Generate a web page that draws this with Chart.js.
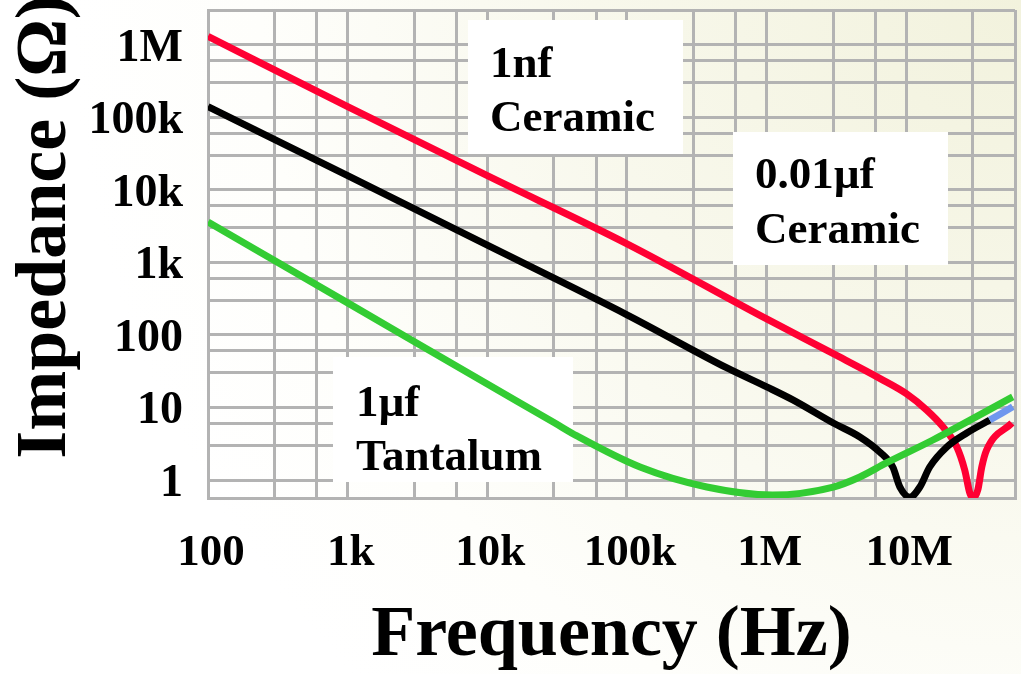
<!DOCTYPE html>
<html><head><meta charset="utf-8">
<script src="https://cdn.jsdelivr.net/npm/chart.js@4.4.1/dist/chart.umd.min.js"></script>
<style>html,body{margin:0;padding:0;background:#fff}#wrap{width:1021px;height:674px;position:relative}</style>
</head><body><div id="wrap"><canvas id="c"></canvas></div>
<script>
// ---- data ----
const redFreq = [100, 1e3, 1e4, 1e5, 1e6, 3e6, 6.5e6, 1e7, 1.4e7, 1.83e7, 2.3e7, 2.62e7, 2.85e7, 3.0e7, 3.25e7, 3.47e7, 3.76e7, 5.7e7];
const redZ    = [1.3e6, 1.4e5, 1.56e4, 1.8e3, 166, 55, 25, 15.5, 9.2, 5.4, 2.85, 1.37, 0.66, 0.57, 0.73, 1.51, 2.6, 6.1];
const blackFreq = [100, 1e3, 1e4, 1e5, 5.2e5, 1e6, 1.54e6, 3e6, 4.65e6, 6.45e6, 8e6, 9e6, 1.06e7, 1.25e7, 1.47e7, 1.95e7, 2.71e7, 3.96e7];
const blackZ    = [1.4e5, 1.56e4, 1.72e3, 189, 35, 19.2, 12.7, 6.1, 3.92, 2.43, 1.51, 0.8, 0.58, 0.8, 1.51, 2.85, 4.45, 6.7];
const blueFreq = [3.96e7, 5.78e7];
const blueZ    = [6.7, 10.2];
const greenFreq = [100, 1e3, 1e4, 3e4, 4.38e4, 1.24e5, 3.73e5, 1.1e6, 3e6, 4.65e6, 7.2e6, 1.55e7, 5.78e7];
const greenZ    = [3.6e3, 276, 21, 6.2, 4.05, 1.51, 0.8, 0.62, 0.8, 1.1, 1.72, 3.56, 14];

const xGridValues = [100,300,600,1e3,3e3,6e3,1e4,3e4,6e4,1e5,3e5,6e5,1e6,3e6,6e6,1e7,3e7,6e7];
const xLabelValues = [100, 1e3, 1e4, 1e5, 1e6, 1e7];
const xLabelTexts  = ['100','1k','10k','100k','1M','10M'];
const yGridValues = [1,3,6,10,30,60,100,300,600,1e3,3e3,6e3,1e4,3e4,6e4,1e5,3e5,6e5,1e6,3e6];
const yLabelValues = [1, 10, 100, 1e3, 1e4, 1e5, 1e6];
const yLabelTexts  = ['1','10','100','1k','10k','100k','1M'];

const noteTexts = [['1nf','Ceramic'], ['0.01\u00b5f','Ceramic'], ['1\u00b5f','Tantalum']];

const SERIF = "'Liberation Serif','Times New Roman',serif";
const GRID = '#b3b3b3';

function pts(xs, ys){ return xs.map((x,i)=>({x:x, y:ys[i]})); }
function labelFor(vals, texts, v){
  for (let i=0;i<vals.length;i++){ if (Math.abs(vals[i]-v)/vals[i] < 1e-6) return texts[i]; }
  return '';
}
function noPad(s){ s.paddingTop = 0; s.paddingBottom = 0; s.paddingLeft = 0; s.paddingRight = 0; }

const bgPlugin = {
  id:'bg',
  beforeDraw(chart){
    const ctx = chart.ctx, w = chart.width, h = chart.height;
    ctx.save();
    const g = ctx.createRadialGradient(w, 0, 0, w, 0, 950);
    g.addColorStop(0, '#f2f2dd');
    g.addColorStop(0.45, '#f8f8ec');
    g.addColorStop(0.8, '#fefefb');
    g.addColorStop(1, '#ffffff');
    ctx.fillStyle = g;
    ctx.fillRect(0,0,w,h);
    ctx.restore();
  }
};

const notePlugin = {
  id:'notes',
  beforeDatasetsDraw(chart){
    const ctx = chart.ctx;
    const boxes = [
      {x:468, y:20,  w:215, h:134, tx:490, ty:[77,131]},
      {x:733, y:132, w:215, h:133, tx:755, ty:[188,243]},
      {x:333, y:357, w:240, h:125, tx:356, ty:[416,470]}
    ];
    ctx.save();
    boxes.forEach((b,i)=>{
      ctx.fillStyle = '#ffffff';
      ctx.fillRect(b.x, b.y, b.w, b.h);
      ctx.fillStyle = '#000';
      ctx.font = 'bold 45px ' + SERIF;
      ctx.textBaseline = 'alphabetic';
      ctx.textAlign = 'left';
      noteTexts[i].forEach((t,j)=> ctx.fillText(t, b.tx, b.ty[j]));
    });
    ctx.restore();
  }
};

new Chart(document.getElementById('c'), {
  type:'scatter',
  data:{ datasets:[
    {label:'1\u00b5f Tantalum', data:pts(greenFreq, greenZ), borderColor:'#33cc33', order:0},
    {label:'end', data:pts(blueFreq, blueZ), borderColor:'#6f97ee', order:1},
    {label:'0.01\u00b5f Ceramic', data:pts(blackFreq, blackZ), borderColor:'#000000', order:2},
    {label:'1nf Ceramic', data:pts(redFreq, redZ), borderColor:'#ff0033', order:3}
  ].map(d=>Object.assign(d,{showLine:true, borderWidth:7, pointRadius:0, pointHoverRadius:0, cubicInterpolationMode:'monotone', borderCapStyle:'butt', borderJoinStyle:'round', fill:false}))},
  options:{
    responsive:true, maintainAspectRatio:false, animation:false,
    layout:{padding:{left:0, right:6, top:10, bottom:0}},
    plugins:{legend:{display:false}, tooltip:{enabled:false}},
    scales:{
      x:{
        type:'logarithmic', min:100, max:6e7, position:'bottom',
        afterBuildTicks(s){ s.ticks = xGridValues.map(v=>({value:v})); },
        afterFit(s){ s.height = 176; noPad(s); },
        grid:{color:GRID, lineWidth:3, drawTicks:false},
        border:{display:true, color:GRID, width:3},
        ticks:{autoSkip:false, maxRotation:0, minRotation:0, padding:28, labelOffset:3, color:'#000',
          font:{family:SERIF, size:45, weight:'bold'},
          callback(v){ return labelFor(xLabelValues, xLabelTexts, v); }},
        title:{display:true, text:'Frequency (Hz)', color:'#000',
          font:{family:SERIF, size:72, weight:'bold', lineHeight:1}, padding:{top:0, bottom:2}}
      },
      y:{
        type:'logarithmic', min:0.565, max:3e6, position:'left',
        afterBuildTicks(s){ s.ticks = yGridValues.map(v=>({value:v})); },
        afterFit(s){ s.width = 208; noPad(s); },
        grid:{color:GRID, lineWidth:3, drawTicks:false},
        border:{display:true, color:GRID, width:3},
        ticks:{autoSkip:false, padding:25, labelOffset:4, color:'#000',
          font:{family:SERIF, size:46, weight:'bold'},
          callback(v){ return labelFor(yLabelValues, yLabelTexts, v); }},
        title:{display:true, text:'   Impedance (\u03a9)', color:'#000',
          font:{family:SERIF, size:72, weight:'bold', lineHeight:1}, padding:{top:10, bottom:0}}
      }
    }
  },
  plugins:[bgPlugin, notePlugin]
});
</script></body></html>
